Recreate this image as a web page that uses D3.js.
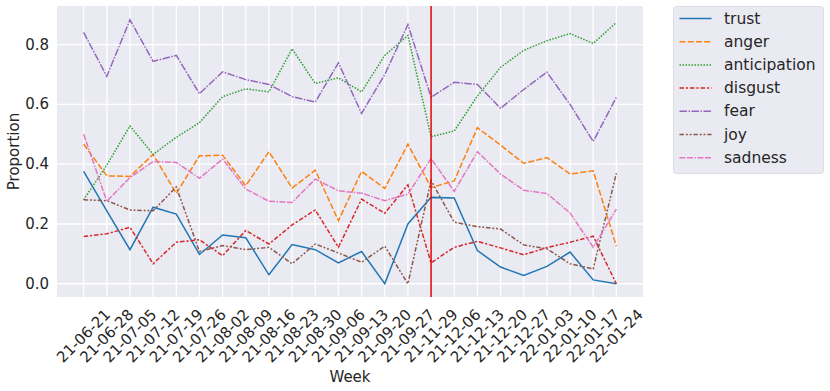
<!DOCTYPE html>
<html>
<head>
<meta charset="utf-8">
<script src="https://cdn.jsdelivr.net/npm/d3@7"></script>
<style>
  body { margin: 0; background: #fff; }
  text { font-family: "DejaVu Sans", sans-serif; fill: #262626; }
</style>
</head>
<body>
<script>
const weeks = ["21-06-21","21-06-28","21-07-05","21-07-12","21-07-19","21-07-26","21-08-02","21-08-09",
  "21-08-16","21-08-23","21-08-30","21-09-06","21-09-13","21-09-20","21-09-27","21-11-29",
  "21-12-06","21-12-13","21-12-20","21-12-27","22-01-03","22-01-10","22-01-17","22-01-24"];

const emotions = ["trust","anger","anticipation","disgust","fear","joy","sadness"];

const trust = [0.376,0.244,0.114,0.256,0.233,0.098,0.163,0.154,0.030,0.131,0.114,0.070,0.108,0.000,0.200,0.289,0.287,0.111,0.056,0.028,0.058,0.106,0.013,0.000];
const anger = [0.467,0.361,0.359,0.433,0.302,0.428,0.430,0.328,0.442,0.320,0.380,0.211,0.376,0.319,0.467,0.322,0.344,0.522,0.464,0.403,0.422,0.367,0.378,0.126];
const anticipation = [0.281,0.397,0.528,0.433,0.490,0.539,0.626,0.652,0.642,0.786,0.670,0.689,0.642,0.764,0.831,0.492,0.511,0.628,0.724,0.781,0.813,0.837,0.804,0.874];
const disgust = [0.158,0.167,0.189,0.067,0.139,0.147,0.094,0.178,0.133,0.197,0.247,0.122,0.283,0.236,0.331,0.070,0.122,0.142,0.120,0.097,0.121,0.139,0.159,0.000];
const fear = [0.841,0.694,0.883,0.744,0.764,0.636,0.709,0.683,0.667,0.626,0.608,0.739,0.570,0.700,0.867,0.624,0.674,0.667,0.587,0.650,0.708,0.600,0.476,0.624];
const joy = [0.281,0.278,0.247,0.244,0.324,0.108,0.128,0.114,0.122,0.067,0.133,0.103,0.072,0.126,0.000,0.345,0.206,0.191,0.183,0.130,0.117,0.067,0.050,0.370];
const sadness = [0.500,0.276,0.355,0.409,0.406,0.353,0.417,0.317,0.276,0.272,0.350,0.311,0.303,0.278,0.300,0.419,0.309,0.442,0.367,0.313,0.302,0.237,0.122,0.250];

const yTicks = [0.0, 0.2, 0.4, 0.6, 0.8];
const markerWeek = "21-11-29";

const series = [trust, anger, anticipation, disgust, fear, joy, sadness];
const colors = ["#1f77b4","#ff7f0e","#2ca02c","#d62728","#9467bd","#8c564b","#e377c2"];
// seaborn dash specs scaled by linewidth 1.5
const dashes = ["", "6,2.25", "1.5,1.5", "4.5,1.875,2.25,1.875", "7.5,1.5,1.5,1.5",
  "4.5,1.875,1.875,1.875,1.875,1.875", "6,1.5,6,1.5,1.5,1.5"];

const dims = { width: 830, height: 391, left: 57, right: 643, top: 6, bottom: 297 };

const svg = d3.select("body").append("svg")
  .attr("width", dims.width).attr("height", dims.height);

const xScale = d3.scalePoint().domain(weeks).range([dims.left, dims.right]).padding(1.15);
const yScale = d3.scaleLinear().domain([-0.0443, 0.9293]).range([dims.bottom, dims.top]);

svg.append("rect")
  .attr("x", dims.left).attr("y", dims.top)
  .attr("width", dims.right - dims.left).attr("height", dims.bottom - dims.top)
  .attr("fill", "#eaeaf2");

// grid
svg.append("g").selectAll("line").data(weeks).join("line")
  .attr("x1", d => xScale(d)).attr("x2", d => xScale(d))
  .attr("y1", dims.top).attr("y2", dims.bottom)
  .attr("stroke", "#fff").attr("stroke-width", 1.3);
svg.append("g").selectAll("line").data(yTicks).join("line")
  .attr("x1", dims.left).attr("x2", dims.right)
  .attr("y1", d => yScale(d)).attr("y2", d => yScale(d))
  .attr("stroke", "#fff").attr("stroke-width", 1.3);

// y tick labels
svg.append("g").selectAll("text").data(yTicks).join("text")
  .attr("x", dims.left - 8).attr("y", d => yScale(d))
  .attr("text-anchor", "end").attr("dominant-baseline", "central")
  .style("font-size", "15px")
  .text(d => d.toFixed(1));

// x tick labels, rotated 45
svg.append("g").selectAll("text").data(weeks).join("text")
  .attr("transform", d => `translate(${xScale(d)},${dims.bottom + 39}) rotate(-45)`)
  .attr("text-anchor", "middle").attr("dominant-baseline", "central")
  .style("font-size", "15px")
  .text(d => d);

// lines
const line = d3.line().x((d, i) => xScale(weeks[i])).y(d => yScale(d));
series.forEach((s, k) => {
  svg.append("path").datum(s)
    .attr("d", line)
    .attr("fill", "none")
    .attr("stroke", colors[k])
    .attr("stroke-width", 1.5)
    .attr("stroke-dasharray", dashes[k] || null);
});

// marker line
svg.append("line")
  .attr("x1", xScale(markerWeek)).attr("x2", xScale(markerWeek))
  .attr("y1", dims.top).attr("y2", dims.bottom)
  .attr("stroke", "#e00000").attr("stroke-width", 1.5);

// axis labels
svg.append("text")
  .attr("x", (dims.left + dims.right) / 2).attr("y", 382)
  .attr("text-anchor", "middle").style("font-size", "15px")
  .text("Week");
svg.append("text")
  .attr("transform", `translate(19,${(dims.top + dims.bottom) / 2}) rotate(-90)`)
  .attr("text-anchor", "middle").style("font-size", "15px")
  .text("Proportion");

// legend
const legend = svg.append("g");
legend.append("rect")
  .attr("x", 673.5).attr("y", 6.5).attr("width", 150).attr("height", 167)
  .attr("rx", 3).attr("fill", "#eaeaf2").attr("stroke", "#dcdce2").attr("stroke-width", 1);
emotions.forEach((e, k) => {
  const cy = 18.5 + k * 23.2;
  legend.append("line")
    .attr("x1", 679.5).attr("x2", 711.5).attr("y1", cy).attr("y2", cy)
    .attr("stroke", colors[k]).attr("stroke-width", 1.5)
    .attr("stroke-dasharray", dashes[k] || null);
  legend.append("text")
    .attr("x", 724).attr("y", cy).attr("dominant-baseline", "central")
    .style("font-size", "15.5px")
    .text(e);
});
</script>
</body>
</html>
